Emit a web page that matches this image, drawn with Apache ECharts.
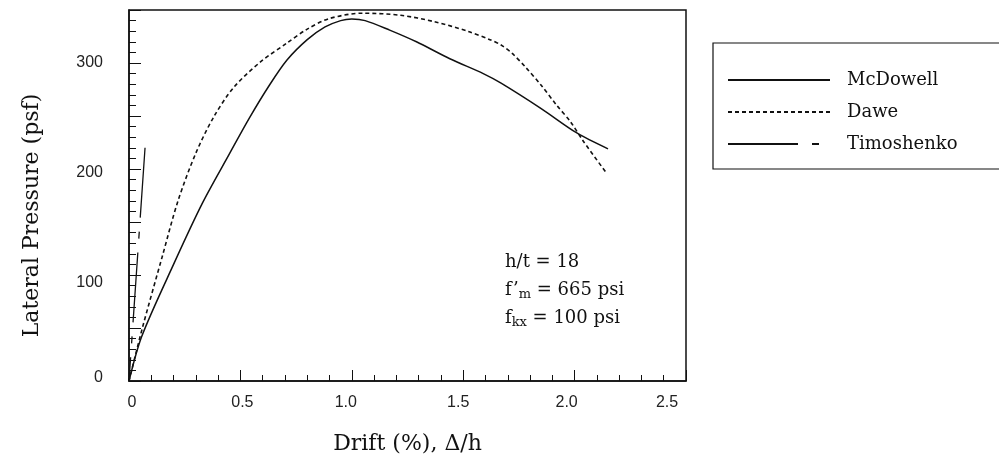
<!DOCTYPE html>
<html>
<head>
<meta charset="utf-8">
<script src="https://cdn.jsdelivr.net/npm/echarts@6/dist/echarts.min.js"></script>
<style>
  html, body { margin: 0; padding: 0; background: #fff; }
  #chart { width: 999px; height: 464px; }
</style>
</head>
<body>
<div id="chart"></div>
<script>
// Lateral pressure vs. drift for a masonry wall (h/t = 18)
const seriesNames = ['McDowell', 'Dawe', 'Timoshenko'];

const mcdowellDrift    = [0, 0.057, 0.20, 0.33, 0.45, 0.54, 0.63, 0.71, 0.80, 0.88, 0.95, 1.00, 1.06, 1.17, 1.29, 1.44, 1.59, 1.67, 1.85, 2.01, 2.15];
const mcdowellPressure = [0, 42,    110,  168,  214,  248,  279,  303,  322,  334,  340,  341.5, 340, 331,  320,  304,  290,  281,  257,  234,  219];

const daweDrift    = [0, 0.06, 0.15, 0.22, 0.30, 0.38, 0.47, 0.59, 0.71, 0.80, 0.90, 1.05, 1.22, 1.37, 1.52, 1.62, 1.67, 1.72, 1.78, 1.85, 1.92, 1.98, 2.04, 2.14];
const dawePressure = [0, 50,   118,  170,  215,  249,  277,  301,  319,  332,  342,  347,  345,  339,  330,  322,  317,  309,  296,  279,  260,  245,  226,  197];

const timoshenkoDrift    = [0.072, 0];
const timoshenkoPressure = [220, 0];

const xTicks = [0, 0.5, 1.0, 1.5, 2.0, 2.5];
const yTicks = [0, 100, 200, 300];

const notes = ['h/t = 18', "f’{sub|m} = 665 psi", 'f{sub|kx} = 100 psi'];

const pairs = (xs, ys) => xs.map((x, i) => [x, ys[i]]);

const ink = '#111';
const serif = 'DejaVu Serif';
const sans = 'Liberation Sans';

// small hand-set nudges of the tick labels (pixels; + = right / down)
const xLabelNudge = [3, 2, -6, -5, -8, -19];
const yLabelNudge = [-3, 8, 4, 0];

const xRich = {}, yRich = {};
xLabelNudge.forEach((s, i) => {
  xRich['x' + i] = { padding: s >= 0 ? [0, 0, 0, 2 * s] : [0, -2 * s, 0, 0] };
});
yLabelNudge.forEach((s, i) => {
  yRich['y' + i] = { padding: s >= 0 ? [2 * s, 0, 0, 0] : [0, 0, -2 * s, 0] };
});

const chart = echarts.init(document.getElementById('chart'));
chart.setOption({
  animation: false,
  backgroundColor: '#fff',
  grid: {
    left: 129, right: 313, top: 10, bottom: 83,
    show: true, borderColor: ink, borderWidth: 1.5
  },
  xAxis: {
    type: 'value', min: 0, max: 2.5, interval: 0.5,
    name: 'Drift (%), Δ/h', nameLocation: 'middle', nameGap: 52,
    nameTextStyle: { fontFamily: serif, fontSize: 22, color: ink },
    axisLine: { lineStyle: { color: ink, width: 1.5 } },
    axisTick: { inside: true, length: 11, lineStyle: { color: ink, width: 1 } },
    minorTick: { show: true, splitNumber: 5, length: 6, lineStyle: { color: ink, width: 1 } },
    splitLine: { show: false },
    axisLabel: {
      fontFamily: sans, fontSize: 16, color: '#222', margin: 14,
      rich: xRich,
      formatter: v => {
        const i = xTicks.indexOf(v);
        if (i < 0) return '';
        return '{x' + i + '|' + (v === 0 ? '0' : v.toFixed(1)) + '}';
      }
    }
  },
  yAxis: {
    type: 'value', min: 0, max: 350, interval: 50,
    name: 'Lateral Pressure (psf)', nameLocation: 'middle', nameGap: 86,
    nameTextStyle: { fontFamily: serif, fontSize: 22, color: ink, padding: [0, 40, 0, 0] },
    axisLine: { lineStyle: { color: ink, width: 1.5 } },
    axisTick: { inside: true, length: 12, lineStyle: { color: ink, width: 1 } },
    minorTick: { show: true, splitNumber: 5, length: 7, lineStyle: { color: ink, width: 1 } },
    splitLine: { show: false },
    axisLabel: {
      fontFamily: sans, fontSize: 16, color: '#222', margin: 26,
      rich: yRich,
      formatter: v => {
        const i = yTicks.indexOf(v);
        return i < 0 ? '' : '{y' + i + '|' + v + '}';
      }
    }
  },
  legend: {
    orient: 'vertical', left: 713, top: 43,
    padding: [28, 300, 16, 14],
    borderColor: ink, borderWidth: 1.2,
    itemWidth: 102, itemHeight: 14, itemGap: 14,
    itemStyle: { opacity: 0, borderWidth: 0 },
    textStyle: { fontFamily: serif, fontSize: 18, lineHeight: 18, color: ink, padding: [0, 0, 0, 12] },
    data: seriesNames
  },
  series: [
    {
      name: seriesNames[0], type: 'line', symbol: 'none', smooth: 0.3,
      data: pairs(mcdowellDrift, mcdowellPressure),
      lineStyle: { color: ink, width: 1.5 }, itemStyle: { color: ink }
    },
    {
      name: seriesNames[1], type: 'line', symbol: 'none', smooth: 0.3,
      data: pairs(daweDrift, dawePressure),
      lineStyle: { color: ink, width: 1.6, type: [4, 3] }, itemStyle: { color: ink }
    },
    {
      name: seriesNames[2], type: 'line', symbol: 'none',
      data: pairs(timoshenkoDrift, timoshenkoPressure),
      lineStyle: { color: ink, width: 1.3, type: [70, 14, 7, 14] }, itemStyle: { color: ink }
    }
  ],
  graphic: notes.map((t, i) => ({
    type: 'text', x: 505, y: 262 + i * 28,
    style: {
      text: t, verticalAlign: 'middle',
      fontFamily: serif, fontSize: 18, fill: ink,
      rich: {
        sub: { fontFamily: serif, fontSize: 13, fill: ink, padding: [10, 0, 0, 0] }
      }
    }
  }))
});
</script>
</body>
</html>
